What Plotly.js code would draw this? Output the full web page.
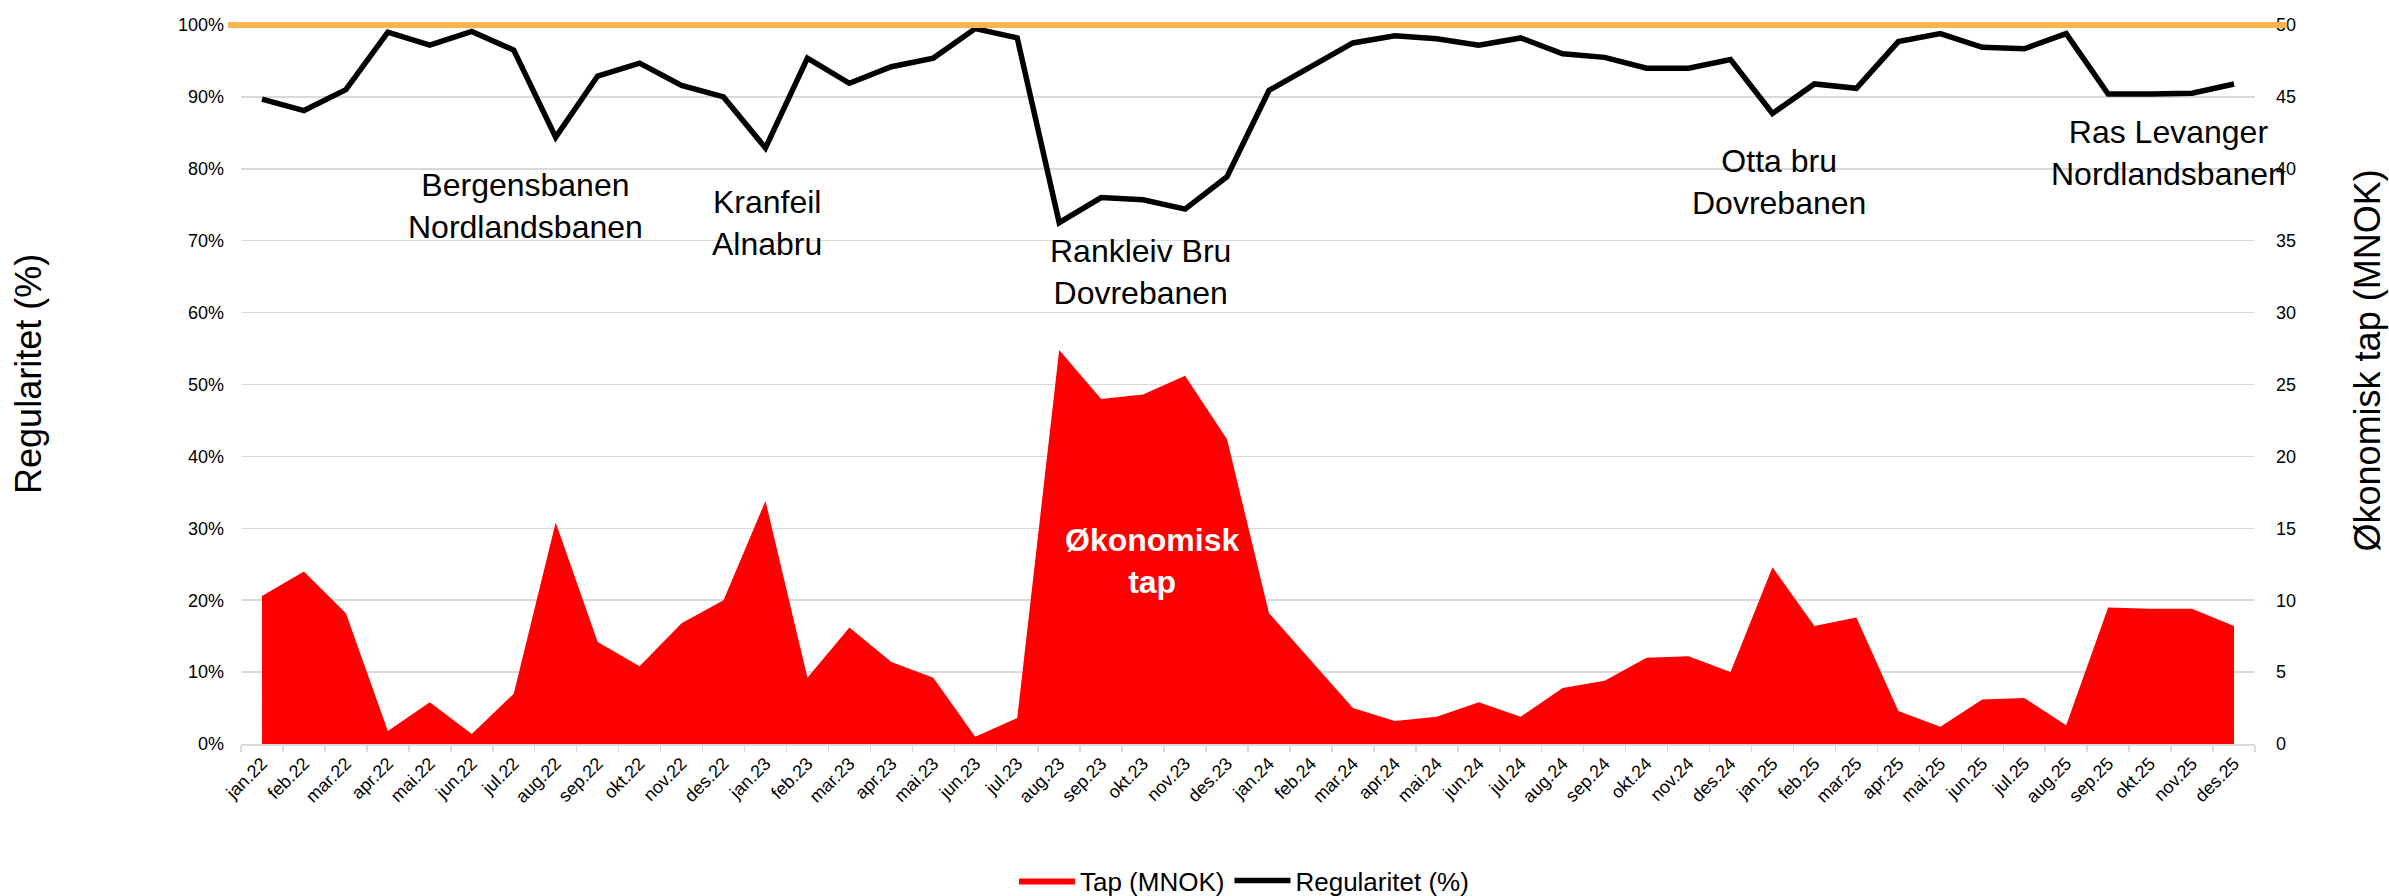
<!DOCTYPE html>
<html>
<head>
<meta charset="utf-8">
<script src="https://cdn.plot.ly/plotly-3.0.1.min.js"></script>
<style>
  html, body { margin: 0; padding: 0; background: #ffffff; }
  #chart { width: 2389px; height: 896px; }
</style>
</head>
<body>
<div id="chart"></div>
<script>
// ---- Data ----
const months = [
  "jan.22","feb.22","mar.22","apr.22","mai.22","jun.22","jul.22","aug.22","sep.22","okt.22","nov.22","des.22",
  "jan.23","feb.23","mar.23","apr.23","mai.23","jun.23","jul.23","aug.23","sep.23","okt.23","nov.23","des.23",
  "jan.24","feb.24","mar.24","apr.24","mai.24","jun.24","jul.24","aug.24","sep.24","okt.24","nov.24","des.24",
  "jan.25","feb.25","mar.25","apr.25","mai.25","jun.25","jul.25","aug.25","sep.25","okt.25","nov.25","des.25"
];

// Økonomisk tap (MNOK) - right axis
const tapMNOK = [
  10.3, 12.0, 9.1, 0.9, 2.9, 0.7, 3.5, 15.4, 7.1, 5.4, 8.4, 10.0,
  16.9, 4.6, 8.1, 5.7, 4.6, 0.5, 1.8, 27.4, 24.0, 24.3, 25.6, 21.2,
  9.1, 5.8, 2.5, 1.6, 1.9, 2.9, 1.9, 3.9, 4.4, 6.0, 6.1, 5.0,
  12.3, 8.2, 8.8, 2.3, 1.2, 3.1, 3.2, 1.3, 9.5, 9.4, 9.4, 8.2
];

// Regularitet (%) - left axis
const regularitet = [
  89.7, 88.1, 91.0, 99.0, 97.2, 99.1, 96.5, 84.4, 92.9, 94.7, 91.6, 90.0,
  82.9, 95.4, 91.9, 94.2, 95.4, 99.5, 98.2, 72.5, 76.0, 75.7, 74.4, 78.9,
  90.9, 94.2, 97.5, 98.5, 98.1, 97.2, 98.2, 96.0, 95.5, 94.0, 94.0, 95.2,
  87.7, 91.8, 91.2, 97.7, 98.8, 96.9, 96.7, 98.8, 90.4, 90.4, 90.5, 91.8
];

const targetPct = 100;

// Event labels: [text, category index position, y in %]
const eventTexts = [
  "Bergensbanen<br>Nordlandsbanen",
  "Kranfeil<br>Alnabru",
  "Rankleiv Bru<br>Dovrebanen",
  "Otta bru<br>Dovrebanen",
  "Ras Levanger<br>Nordlandsbanen"
];
const eventX = [6.29, 12.03, 20.93, 36.15, 45.45];
const eventY = [74.8, 72.4, 65.6, 78.2, 82.2];

const FONT = "Liberation Sans, Arial, sans-serif";

const traces = [
  {
    type: "scatter",
    mode: "lines",
    name: "Tap (MNOK)",
    x: months,
    y: tapMNOK,
    yaxis: "y2",
    fill: "tozeroy",
    fillcolor: "#FF0000",
    line: { color: "#FF0000", width: 0 },
    hoverinfo: "x+y"
  },
  {
    type: "scatter",
    mode: "lines",
    name: "Regularitet (%)",
    x: months,
    y: regularitet,
    yaxis: "y",
    line: { color: "#000000", width: 5.5 },
    hoverinfo: "x+y"
  }
];

const annotations = eventTexts.map((t, i) => ({
  text: t,
  x: eventX[i],
  y: eventY[i],
  xref: "x",
  yref: "y",
  showarrow: false,
  xanchor: "center",
  yanchor: "middle",
  align: "center",
  font: { family: FONT, size: 32, color: "#000000" }
}));

annotations.push({
  text: "<b>Økonomisk<br>tap</b>",
  x: 21.2, y: 25.4, xref: "x", yref: "y",
  showarrow: false, xanchor: "center", yanchor: "middle", align: "center",
  font: { family: FONT, size: 32, color: "#FFFFFF" }
});

// Axis titles as rotated texts
annotations.push({
  text: "Regularitet (%)",
  xref: "paper", yref: "paper",
  x: -0.1058, y: 0.5146,
  xanchor: "center", yanchor: "middle",
  textangle: -90, showarrow: false,
  font: { family: FONT, size: 36, color: "#000000" }
});
annotations.push({
  text: "Økonomisk tap (MNOK)",
  xref: "paper", yref: "paper",
  x: 1.0558, y: 0.534,
  xanchor: "center", yanchor: "middle",
  textangle: -90, showarrow: false,
  font: { family: FONT, size: 36, color: "#000000" }
});

const layout = {
  width: 2389,
  height: 896,
  margin: { l: 241, r: 134, t: 25, b: 152, pad: 0, autoexpand: false },
  paper_bgcolor: "#FFFFFF",
  plot_bgcolor: "#FFFFFF",
  font: { family: FONT, size: 18, color: "#000000" },
  showlegend: true,
  legend: {
    orientation: "h",
    x: 0.498, xanchor: "center",
    y: -0.19, yanchor: "middle",
    font: { family: FONT, size: 26, color: "#000000" },
    traceorder: "normal",
    itemwidth: 56,
    bgcolor: "rgba(0,0,0,0)"
  },
  xaxis: {
    type: "category",
    range: [-0.5, months.length - 0.5],
    tickangle: -45,
    tickson: "boundaries",
    ticks: "outside",
    ticklen: 6,
    tickcolor: "#D9D9D9",
    tickwidth: 1.5,
    showline: true,
    linecolor: "#D9D9D9",
    linewidth: 2,
    showgrid: false,
    zeroline: false,
    tickfont: { family: FONT, size: 18, color: "#000000" },
    fixedrange: true
  },
  yaxis: {
    range: [0, 100],
    dtick: 10,
    ticksuffix: "%",
    showgrid: true,
    gridcolor: "#D9D9D9",
    gridwidth: 1.5,
    zeroline: false,
    showline: false,
    ticks: "",
    ticklabelstandoff: 16,
    tickfont: { family: FONT, size: 18, color: "#000000" },
    fixedrange: true
  },
  yaxis2: {
    overlaying: "y",
    side: "right",
    range: [0, 50],
    dtick: 5,
    showgrid: false,
    zeroline: false,
    showline: false,
    ticks: "",
    ticklabelstandoff: 20,
    tickfont: { family: FONT, size: 18, color: "#000000" },
    fixedrange: true
  },
  shapes: [
    {
      type: "line",
      xref: "paper", yref: "paper",
      x0: -0.0065, x1: 1.016,
      y0: targetPct / 100, y1: targetPct / 100,
      line: { color: "#FDB44E", width: 6 },
      layer: "above"
    }
  ],
  annotations: annotations
};

Plotly.newPlot("chart", traces, layout, { displayModeBar: false, staticPlot: true });
</script>
</body>
</html>
